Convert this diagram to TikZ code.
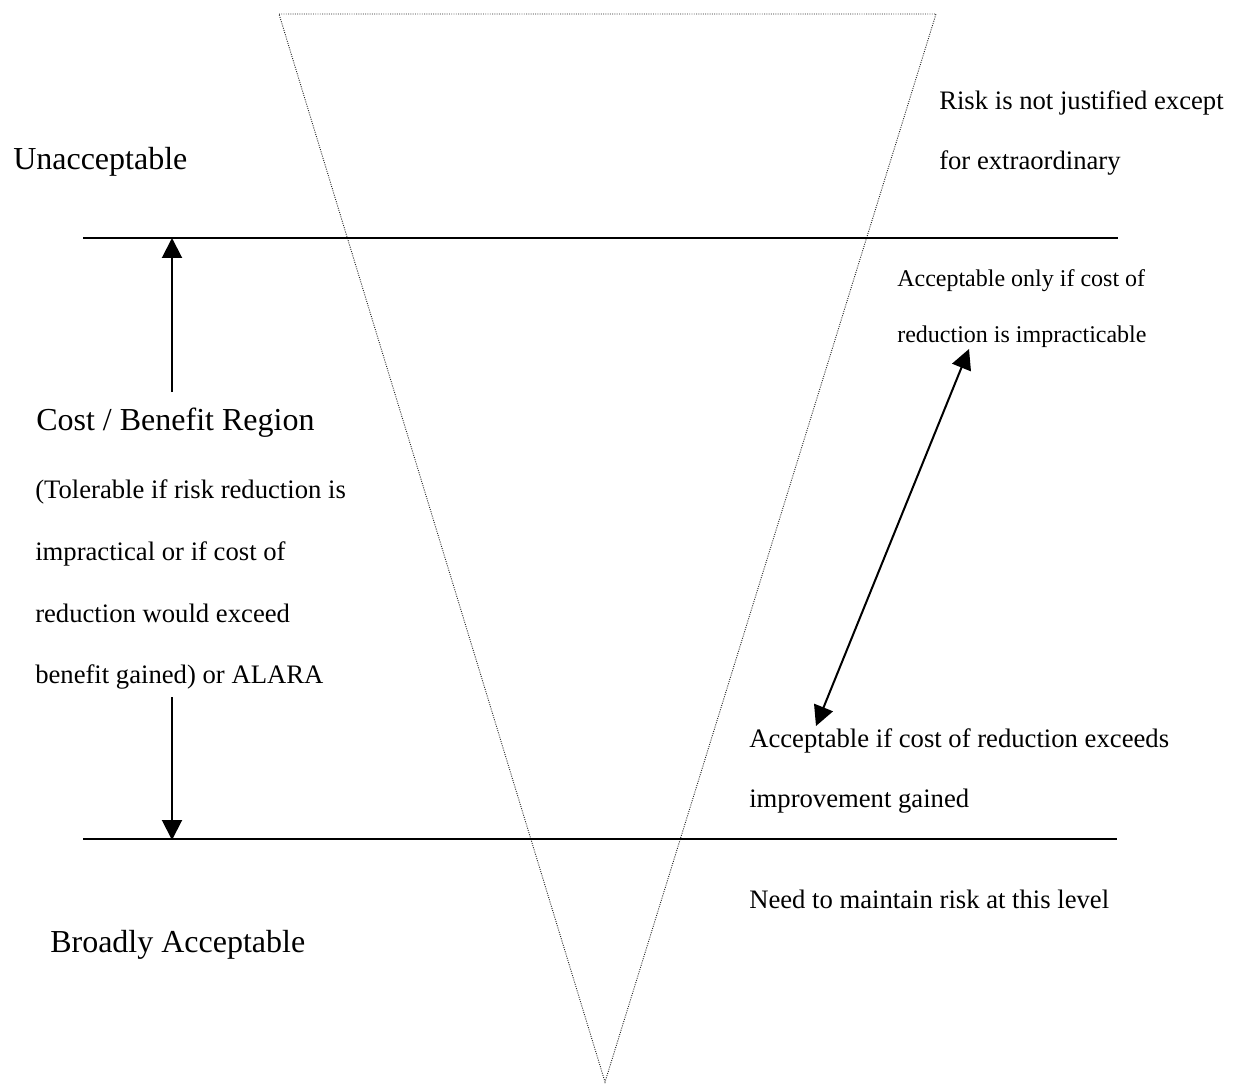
\documentclass[tikz,border=0pt]{standalone}
\usepackage{fontspec}
\setmainfont{Liberation Serif}
\usepackage{tikz}
\usetikzlibrary{calc, arrows.meta}
\usepackage{tkz-euclide}

\tikzset{
  lbl/.style={anchor=base west, inner sep=0pt},
  bigtxt/.style={lbl, font=\fontsize{24}{28}\selectfont},
  midtxt/.style={lbl, font=\fontsize{20}{24}\selectfont},
  smalltxt/.style={lbl, font=\fontsize{18}{22}\selectfont},
  level/.style={line width=1.6pt},
  vee/.style={densely dotted, line width=0.7pt, black!85},
  pointer/.style={line width=1.5pt, -{Triangle[length=15pt,width=15pt]}},
  twoway/.style={line width=1.5pt, {Triangle[length=15pt,width=15pt]}-{Triangle[length=15pt,width=15pt]}}
}

\begin{document}
\begin{tikzpicture}[x=0.75pt, y=-0.75pt]
        \useasboundingbox (0,0) rectangle (1234,1087);
        \tkzDefPoints{279/14/A,936/14/B,605/1082/C}
        \draw[vee] (A) -- (B) -- (C) -- cycle;

        \tkzDefPoints{83/238/P,1118/238/Q,83/839/R,1117/839/S}
        \draw[level] (P) -- (Q);
        \draw[level] (R) -- (S);

        \tkzDefPoints{172/392/U_1,172/238/U_2,172/697/D_1,172/840/D_2}
        \draw[pointer] (U_1) -- (U_2);
        \draw[pointer] (D_1) -- (D_2);

        \tkzDefPoints{816/726/M_1,969/349/M_2}
        \draw[twoway] (M_1) -- (M_2);

        \node[bigtxt] (unacc) at (13,170) {Unacceptable};
        \node[bigtxt] (costben) at (36,430) {Cost / Benefit Region};
        \node[bigtxt] (broad) at (50,952) {Broadly Acceptable};

        \node[midtxt] (tol1) at (35,498) {(Tolerable if risk reduction is};
        \node[midtxt] (tol2) at (35,560) {impractical or if cost of};
        \node[midtxt] (tol3) at (35,622) {reduction would exceed};
        \node[midtxt] (tol4) at (35,683) {benefit gained) or ALARA};

        \node[midtxt] (risk1) at (939,110) {Risk is not justified except};
        \node[midtxt] (risk2) at (939,170) {for extraordinary};
        \node[smalltxt] (only1) at (897,287) {Acceptable only if cost of};
        \node[smalltxt] (only2) at (897,343) {reduction is impracticable};
        \node[midtxt] (exc1) at (749,747) {Acceptable if cost of reduction exceeds};
        \node[midtxt] (exc2) at (749,807) {improvement gained};
        \node[midtxt] (need) at (749,908) {Need to maintain risk at this level};
    \end{tikzpicture}
\end{document}
